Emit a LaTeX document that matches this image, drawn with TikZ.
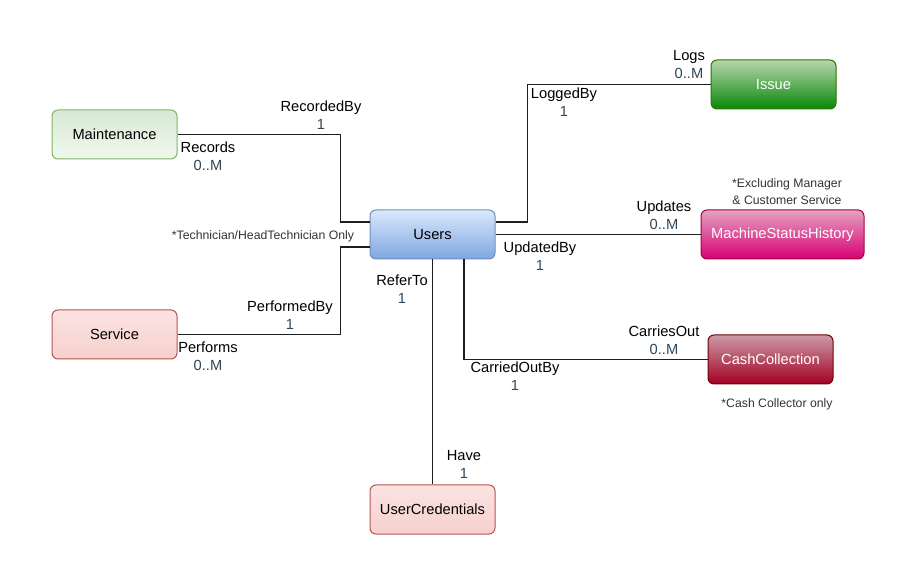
\documentclass[tikz,border=0pt]{standalone}
\usepackage{fontspec}
\setmainfont{Liberation Sans}
\usetikzlibrary{calc}
\definecolor{numc}{HTML}{2E4658}
\definecolor{linec}{HTML}{1E1E1E}
\definecolor{notec}{HTML}{333333}
\tikzset{
  ent/.style={rounded corners=4.5pt, minimum width=93.75pt, minimum height=36.75pt,
    inner sep=0pt, font=\fontsize{11}{13}\selectfont, line width=0.75pt},
  lbl/.style={inner sep=0pt, align=center, font=\fontsize{11}{13.5}\selectfont},
  note/.style={inner sep=0pt, align=center, text=notec, font=\fontsize{9.2}{12.7}\selectfont},
  conn/.style={draw=linec, line width=0.85pt},
}
\definecolor{gA}{HTML}{D7E9D3}\definecolor{gB}{HTML}{F1F8EF}\definecolor{gD}{HTML}{82B366}
\definecolor{rA}{HTML}{FBE3E2}\definecolor{rB}{HTML}{F6D0CE}\definecolor{rD}{HTML}{B85450}
\definecolor{bA}{HTML}{DAE8FC}\definecolor{bB}{HTML}{7EA6E0}\definecolor{bD}{HTML}{6C8EBF}
\definecolor{iA}{HTML}{B8D6AE}\definecolor{iB}{HTML}{078807}\definecolor{iD}{HTML}{2D7600}
\definecolor{mA}{HTML}{E4A2C2}\definecolor{mB}{HTML}{D80073}\definecolor{mD}{HTML}{A50040}
\definecolor{cA}{HTML}{CC9AA5}\definecolor{cB}{HTML}{A20025}\definecolor{cD}{HTML}{6F0000}
\begin{document}
\begin{tikzpicture}[x=0.75pt,y=-0.75pt]
\useasboundingbox (0,0) rectangle (900,566);
% entities
\node[ent, top color=gA, bottom color=gB, draw=gD] (maint) at (114.5,134.5) {Maintenance};
\node[ent, top color=rA, bottom color=rB, draw=rD] (serv) at (114.5,334.5) {Service};
\node[ent, top color=bA, bottom color=bB, draw=bD] (users) at (432.5,234.5) {Users};
\node[ent, top color=iA, bottom color=iB, draw=iD, text=white] (issue) at (773.5,84.5) {Issue};
\node[ent, minimum width=122.25pt, top color=mA, bottom color=mB, draw=mD, text=white] (msh) at (782.5,234.5) {MachineStatusHistory};
\node[ent, top color=cA, bottom color=cB, draw=cD, text=white] (cash) at (770.5,359.5) {CashCollection};
\node[ent, top color=rA, bottom color=rB, draw=rD] (cred) at (432.5,509.5) {UserCredentials};
% anchor points on Users
\coordinate (uw1) at ($(users.north west)!0.25!(users.south west)$);
\coordinate (uw2) at ($(users.north west)!0.75!(users.south west)$);
\coordinate (ue1) at ($(users.north east)!0.25!(users.south east)$);
\coordinate (ub) at ($(users.south west)!0.75!(users.south east)$);
% connectors
\draw[conn] (maint.east) -- ++(163,0) |- (uw1);
\draw[conn] (serv.east) -- ++(163,0) |- (uw2);
\draw[conn] (ue1) -- ++(32,0) |- (issue.west);
\draw[conn] (users.east) -- (msh.west);
\draw[conn] (ub) |- (cash.west);
\draw[conn] (users.south) -- (cred.north);
% labels
\node[lbl] (l1) at (321,115) {RecordedBy\\\textcolor{numc}{1}};
\node[lbl] (l2) at (208,156) {Records\\\textcolor{numc}{0..M}};
\node[lbl] (l3) at (290,315) {PerformedBy\\\textcolor{numc}{1}};
\node[lbl] (l4) at (208,356) {Performs\\\textcolor{numc}{0..M}};
\node[lbl] (l5) at (564,102) {LoggedBy\\\textcolor{numc}{1}};
\node[lbl] (l6) at (689,65) {Logs\\\textcolor{numc}{0..M}};
\node[lbl] (l7) at (664,215) {Updates\\\textcolor{numc}{0..M}};
\node[lbl] (l8) at (540,256) {UpdatedBy\\\textcolor{numc}{1}};
\node[lbl] (l9) at (402,289.5) {ReferTo\\\textcolor{numc}{1}};
\node[lbl] (l10) at (664,340) {CarriesOut\\\textcolor{numc}{0..M}};
\node[lbl] (l11) at (515,376.5) {CarriedOutBy\\\textcolor{numc}{1}};
\node[lbl] (l12) at (464,464.5) {Have\\\textcolor{numc}{1}};
% notes
\node[note] (n1) at (263,236) {*Technician/HeadTechnician Only};
\node[note] (n2) at (787,191.5) {*Excluding Manager\\\& Customer Service};
\node[note] (n3) at (777,404) {*Cash Collector only};
\end{tikzpicture}
\end{document}
